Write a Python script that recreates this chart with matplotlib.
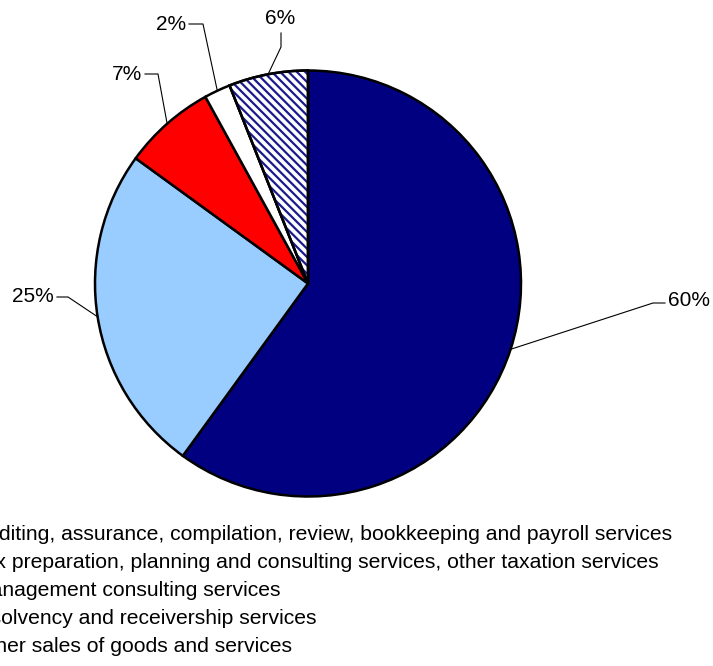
import numpy as np
import matplotlib
matplotlib.use("Agg")
import matplotlib.pyplot as plt
from matplotlib.patches import Wedge

plt.rcParams['font.family'] = ['Liberation Sans', 'DejaVu Sans']
plt.rcParams['hatch.linewidth'] = 1.6

categories = [
    "Auditing, assurance, compilation, review, bookkeeping and payroll services",
    "Tax preparation, planning and consulting services, other taxation services",
    "Management consulting services",
    "Insolvency and receivership services",
    "Other sales of goods and services",
]
shares = [60, 25, 7, 2, 6]
share_labels = ["60%", "25%", "7%", "2%", "6%"]
colors = ["#000080", "#99CCFF", "#FF0000", "#FFFFFF", "#FFFFFF"]

W, H = 713, 666
fig = plt.figure(figsize=(W / 100, H / 100), dpi=100)
ax = fig.add_axes([0, 0, 1, 1])

cx, cy, R = 308, H - 283.5, 213
wedges, _ = ax.pie(shares, colors=colors, startangle=90, counterclock=False,
                   center=(cx, cy), radius=R, frame=True,
                   wedgeprops=dict(edgecolor="black", linewidth=1.8))
ax.set_xlim(0, W)
ax.set_ylim(0, H)
ax.axis("off")

# hatched fill for the last slice, then its outline on top
w = wedges[4]
ax.add_patch(Wedge(w.center, w.r, w.theta1, w.theta2, fill=False,
                   edgecolor="#1A1A8C", linewidth=0, hatch="\\" * 4, zorder=3))
ax.add_patch(Wedge(w.center, w.r, w.theta1, w.theta2, fill=False,
                   edgecolor="black", linewidth=1.8, zorder=4))

# leader lines: elbow point, stub end, label anchor (figure pixels, y down)
leaders = [
    ((653, 303), (665, 303), (668, 300), "left"),
    ((68, 297), (57, 297), (54, 297), "right"),
    ((158, 74), (145, 74), (142, 74), "right"),
    ((203, 24), (189, 24), (186, 24), "right"),
    ((281, 47), (281, 33), (280, 18), "center"),
]
for wdg, lab, (elbow, stub, txt, ha) in zip(wedges, share_labels, leaders):
    mid = np.deg2rad((wdg.theta1 + wdg.theta2) / 2)
    x0, y0 = cx + R * np.cos(mid), cy + R * np.sin(mid)
    xs = [x0, elbow[0], stub[0]]
    ys = [y0, H - elbow[1], H - stub[1]]
    ax.plot(xs, ys, color="black", linewidth=0.8, zorder=5)
    ax.text(txt[0], H - txt[1], lab, ha=ha, va="center", fontsize=15, zorder=6)

leg = ax.legend(wedges, categories, loc="upper left",
                bbox_to_anchor=(-59, H - 525), bbox_transform=ax.transData,
                frameon=False, fontsize=15.2, borderpad=0, borderaxespad=0,
                handlelength=1.0, handletextpad=0.5, labelspacing=0.43)

fig.savefig("out.png", dpi=100, facecolor="white")
